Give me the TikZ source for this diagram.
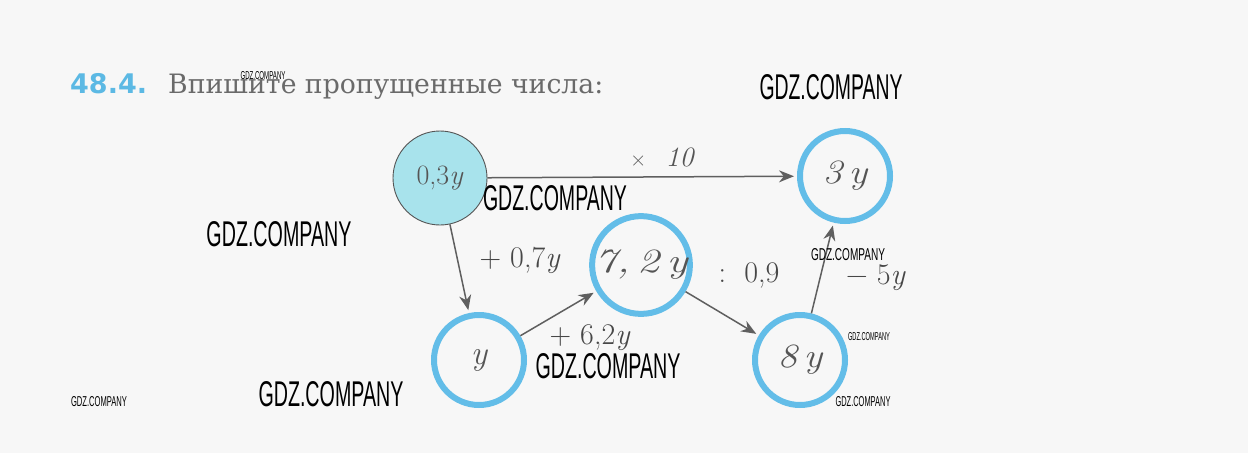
\documentclass[tikz,border=0pt]{standalone}
\usepackage{fontspec}
\usepackage{graphicx}
\usetikzlibrary{arrows.meta}
\newfontfamily\wmfont{Liberation Sans}
\newfontfamily\titlefont{DejaVu Serif}
\newfontfamily\numfont{DejaVu Sans}
\definecolor{bg}{HTML}{F7F7F7}
\definecolor{ring}{HTML}{63BDE8}
\definecolor{cyanfill}{HTML}{A8E3EC}
\definecolor{ink}{HTML}{555555}
\definecolor{arrowc}{HTML}{5F5F5F}
\definecolor{titleblue}{HTML}{5CB9E4}
\definecolor{titlegrey}{HTML}{6A6A6A}
\newcommand{\gdz}[2]{\resizebox{#1}{#2}{\wmfont GDZ.COMPANY}}
\newcommand{\yy}{\textit{y}}
\begin{document}
\begin{tikzpicture}[x=1pt,y=-1pt,
  ringnode/.style={circle,draw=ring,line width=6pt,minimum size=90pt,inner sep=0pt},
  startnode/.style={circle,draw=ink,line width=0.9pt,fill=cyanfill,minimum size=94pt,inner sep=0pt},
  conn/.style={draw=arrowc,line width=1.5pt,-{Stealth[length=15pt,width=12pt]},shorten >=3pt},
  hand/.style={text=ink,font=\fontsize{34}{34}\selectfont\itshape},
  lbl/.style={text=black!72,font=\fontsize{30}{30}\selectfont},
  wm/.style={inner sep=0pt,text=black}]
\fill[bg] (0,0) rectangle (1248,453);
\useasboundingbox (0,0) rectangle (1248,453);

% title
\node[anchor=base west,inner sep=0pt,text=titleblue,font=\numfont\bfseries\fontsize{27}{27}\selectfont] (num) at (70,93) {48.4.};
\node[anchor=base west,inner sep=0pt,text=titlegrey] (title) at (168,93) {\resizebox{435pt}{!}{\titlefont Впишите пропущенные числа:}};

% nodes
\node[startnode,text=ink,font=\fontsize{28}{28}\selectfont] (A) at (440,178) {0,3\yy};
\node[ringnode,hand] (B) at (845,176) {\scalebox{1.15}[1]{3\,y}};
\node[ringnode,hand] (C) at (641,265) {\scalebox{1.3}[1]{7,\,2\,y}};
\node[ringnode,hand] (D) at (479,360) {y};
\node[ringnode,hand] (E) at (800,360) {\scalebox{1.15}[1]{8\,y}};

% connectors
\draw[conn] (A) -- (B);
\draw[conn] (A) -- (D);
\draw[conn] (D) -- (C);
\draw[conn] (C) -- (E);
\draw[conn] (E) -- (B);

% labels
\node[text=ink,font=\fontsize{28}{28}\selectfont\itshape] (l1) at (662,157) {{\upshape\fontsize{22}{22}\selectfont ×}\ \ 10};
\node[lbl] (l2) at (520,260) {+\ 0,7\yy};
\node[lbl] (l3) at (590,338) {+\ 6,2\yy};
\node[lbl] (l4) at (749,275) {:\ \ 0,9};
\node[lbl] (l5) at (876,278) {−\ 5\yy};

% watermarks
\node[wm] (w1) at (831,87) {\gdz{143pt}{25pt}};
\node[wm] (w2) at (555,198) {\gdz{144pt}{25pt}};
\node[wm] (w3) at (279,234) {\gdz{145pt}{25pt}};
\node[wm] (w4) at (608,366) {\gdz{145pt}{25pt}};
\node[wm] (w5) at (331,394) {\gdz{145pt}{25pt}};
\node[wm] (w6) at (263,76) {\gdz{45pt}{8pt}};
\node[wm] (w7) at (848,255) {\gdz{74pt}{12pt}};
\node[wm] (w8) at (869,337) {\gdz{42pt}{8pt}};
\node[wm] (w9) at (99,402) {\gdz{56pt}{10pt}};
\node[wm] (w10) at (863,402) {\gdz{55pt}{10pt}};
\end{tikzpicture}
\end{document}
